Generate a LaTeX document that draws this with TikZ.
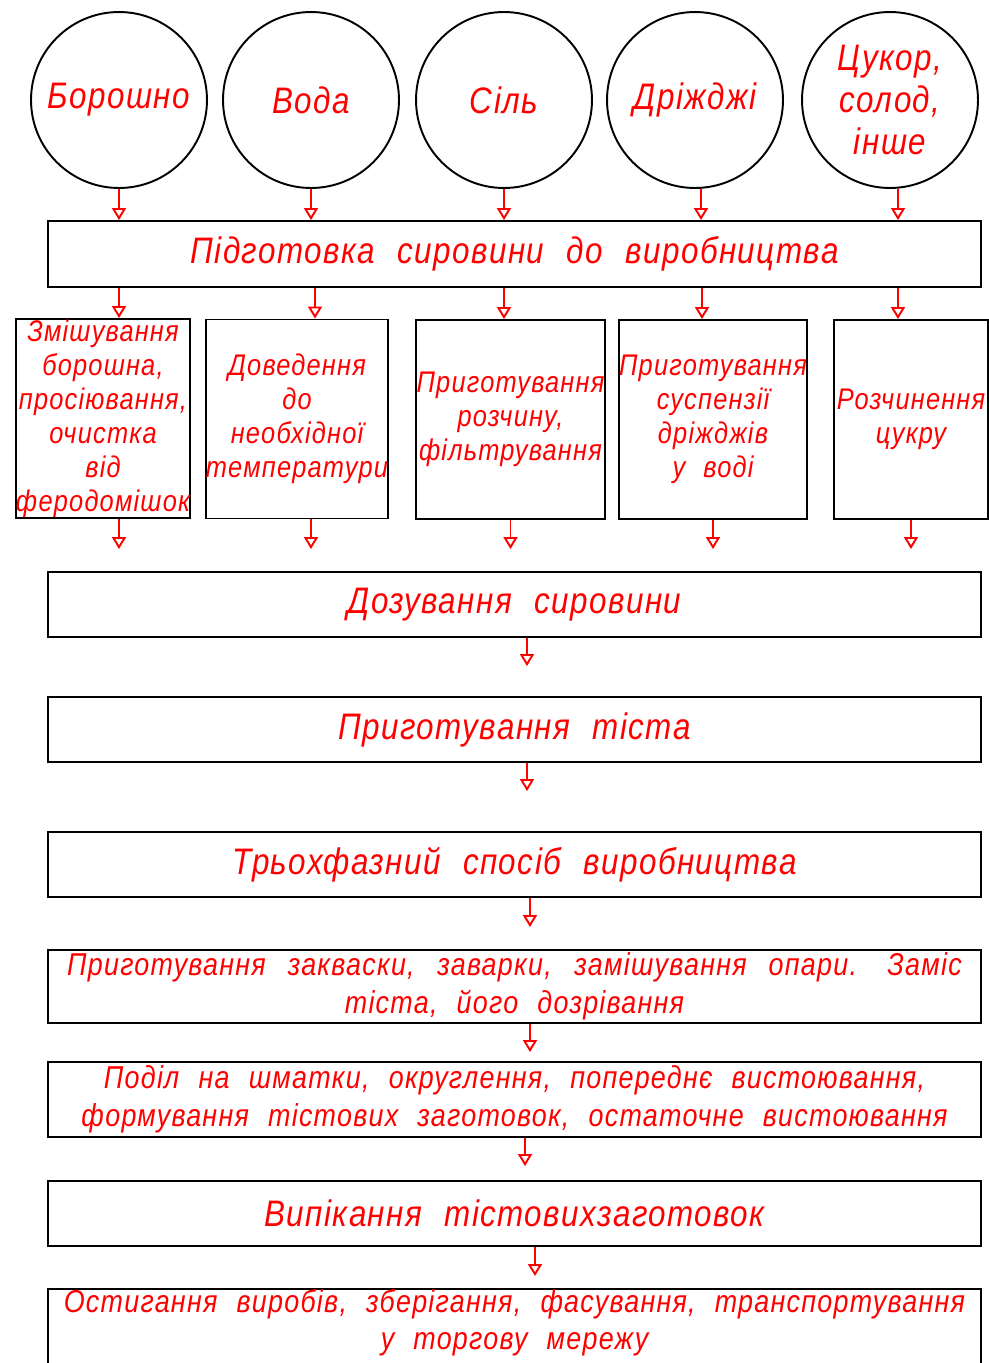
\documentclass[tikz,border=0pt]{standalone}
\usepackage{fontspec}
\setmainfont{Liberation Sans}
\newfontfamily\gost[LetterSpace=4, FakeStretch=0.85, WordSpace=2.2]{Liberation Sans Italic}
\usetikzlibrary{arrows.meta, positioning}

\tikzset{
  ingr/.style={circle, draw=black, line width=1.1pt, minimum size=3.52cm, inner sep=0pt,
    text=red, align=center, font=\gost\fontsize{21}{24}\selectfont},
  stage/.style={draw=black, line width=1.1pt, minimum width=18.66cm, inner sep=0pt,
    text=red, align=center, font=\gost\fontsize{21}{24}\selectfont},
  substage/.style={draw=black, line width=1.1pt, minimum height=3.98cm, inner sep=0pt,
    text=red, align=center, font=\gost\fontsize{17}{19.3}\selectfont},
  longstage/.style={stage, font=\gost\fontsize{18}{21.5}\selectfont},
  arr/.style={-{Triangle[open, length=0.24cm, width=0.28cm]}, red, line width=1.1pt},
}

\begin{document}
\begin{tikzpicture}[x=0.02cm, y=-0.02cm]
  \useasboundingbox (0,0) rectangle (989,1363);
  % raw materials
  \node[ingr] (flour) at (119,100) {Борошно};
  \node[ingr] (water) at (311,100) {Вода};
  \node[ingr] (salt)  at (504,100) {Сіль};
  \node[ingr] (yeast) at (695,100) {Дріжджі};
  \node[ingr] (sugar) at (890,100) {Цукор,\\солод,\\інше};
  \node[stage, minimum height=1.32cm] (prep) at (514.5,254) {Підготовка сировини до виробництва};
  % preparation of each component
  \node[substage, minimum width=3.48cm] (sA) at (103,418.5) {Змішування\\борошна,\\просіювання,\\очистка\\від\\феродомішок};
  \node[substage, minimum width=3.64cm] (sB) at (297,419) {Доведення\\до\\необхідної\\температури};
  \node[substage, minimum width=3.78cm] (sC) at (510.5,419.5) {Приготування\\розчину,\\фільтрування};
  \node[substage, minimum width=3.76cm] (sD) at (713,419.5) {Приготування\\суспензії\\дріжджів\\у воді};
  \node[substage, minimum width=3.08cm] (sE) at (911,419.5) {Розчинення\\цукру};
  % main line
  \node[stage, minimum height=1.30cm] (dos)   at (514.5,604.5) {Дозування сировини};
  \node[stage, minimum height=1.30cm] (dough) at (514.5,729.5) {Приготування тіста};
  \node[stage, minimum height=1.30cm] (three) at (514.5,864.5) {Трьохфазний спосіб виробництва};
  \node[longstage, minimum height=1.46cm] (sour) at (514.5,986.5) {\makebox[17.9cm][s]{Приготування закваски, заварки, замішування опари. Заміс}\\тіста, його дозрівання};
  \node[longstage, minimum height=1.50cm] (div)  at (514.5,1099.5) {Поділ на шматки, округлення, попереднє вистоювання,\\формування тістових заготовок, остаточне вистоювання};
  \node[stage, minimum height=1.30cm] (bake) at (514.5,1213.5) {Випікання тістовихзаготовок};
  \node[longstage, minimum height=1.84cm, anchor=north] (cool) at (514.5,1288) {Остигання виробів, зберігання, фасування, транспортування\\у торгову мережу\\[0.5cm]};
  % arrows
  \draw[arr] (flour.south) -- (flour |- prep.north);
  \draw[arr] (water.south) -- (water |- prep.north);
  \draw[arr] (salt.south)  -- (salt |- prep.north);
  \draw[arr] ([xshift=0.12cm]yeast.south) -- ([xshift=0.12cm]yeast |- prep.north);
  \draw[arr] ([xshift=0.16cm]sugar.south) -- ([xshift=0.16cm]sugar |- prep.north);
  \draw[arr] (flour |- prep.south) -- (flour |- sA.north);
  \draw[arr] ([xshift=0.08cm]water |- prep.south) -- ([xshift=0.08cm]water |- sB.north);
  \draw[arr] (salt |- prep.south)  -- (salt |- sC.north);
  \draw[arr] ([xshift=0.14cm]yeast |- prep.south) -- ([xshift=0.14cm]yeast |- sD.north);
  \draw[arr] ([xshift=0.16cm]sugar |- prep.south) -- ([xshift=0.16cm]sugar |- sE.north);
  \draw[arr, shorten >=0.44cm] (flour |- sA.south) -- (flour |- dos.north);
  \draw[arr, shorten >=0.44cm] (water |- sB.south) -- (water |- dos.north);
  \draw[arr, shorten >=0.44cm] (sC.south) -- (sC |- dos.north);
  \draw[arr, shorten >=0.44cm] (sD.south) -- (sD |- dos.north);
  \draw[arr, shorten >=0.44cm] (sE.south) -- (sE |- dos.north);
  \draw[arr, shorten >=0.6cm] ([xshift=0.25cm]dos.south) -- ([xshift=0.25cm]dough.north);
  \draw[arr, shorten >=0.8cm] ([xshift=0.25cm]dough.south) -- ([xshift=0.25cm]three.north);
  \draw[arr, shorten >=0.44cm] ([xshift=0.31cm]three.south) -- ([xshift=0.31cm]sour.north);
  \draw[arr, shorten >=0.18cm] ([xshift=0.31cm]sour.south) -- ([xshift=0.31cm]div.north);
  \draw[arr, shorten >=0.28cm] ([xshift=0.21cm]div.south) -- ([xshift=0.21cm]bake.north);
  \draw[arr, shorten >=0.24cm] ([xshift=0.41cm]bake.south) -- ([xshift=0.41cm]cool.north);
\end{tikzpicture}
\end{document}
